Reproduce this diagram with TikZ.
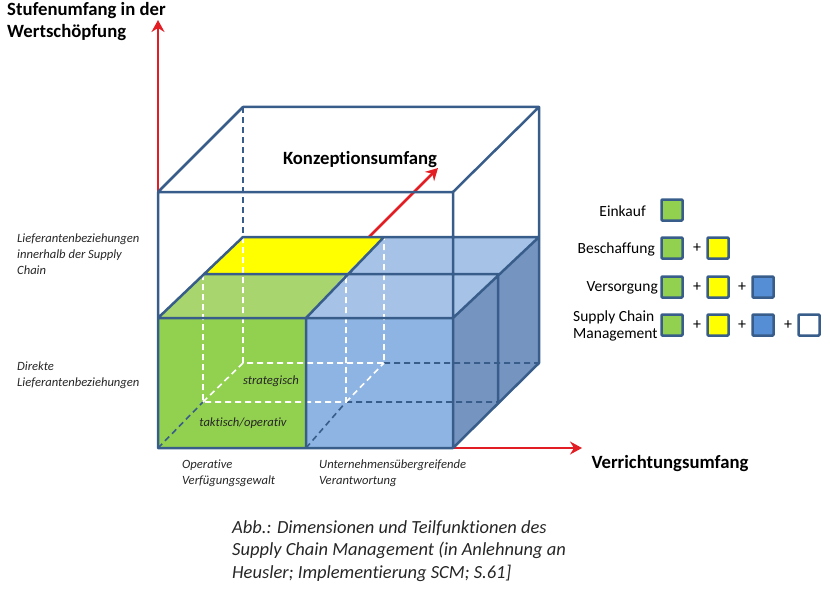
\documentclass[tikz,border=0pt]{standalone}
\usepackage{fontspec}
\setmainfont{Carlito}[Ligatures=NoCommon]
\usetikzlibrary{arrows.meta}
\definecolor{rimblue}{HTML}{385D8A}
\definecolor{axisred}{RGB}{226,30,36}
\definecolor{greenfront}{HTML}{92D050}
\definecolor{greentop}{HTML}{A8D56E}
\definecolor{yellowtop}{HTML}{FFFF00}
\definecolor{bluefront}{HTML}{8EB4E3}
\definecolor{bluetop}{HTML}{A6C3E7}
\definecolor{blueside}{HTML}{7594BF}
\definecolor{bluekey}{HTML}{558ED5}

\begin{document}
\begin{tikzpicture}[x=1pt,y=-1pt,
  rim/.style={draw=rimblue, line width=2.5pt, line join=round},
  hidden/.style={draw=rimblue, line width=1.6pt, dash pattern=on 6pt off 4pt},
  hiddenw/.style={draw=white, line width=1.6pt, dash pattern=on 6pt off 4pt},
  axis/.style={draw=axisred, line width=2.5pt, -{Stealth[length=12pt,width=13pt,inset=4pt]}},
  title/.style={font=\bfseries\fontsize{18.7}{22}\selectfont, align=left, inner sep=0pt},
  note/.style={font=\itshape\fontsize{12.6}{16}\selectfont, align=left, text=black!85, inner sep=0pt},
  legtext/.style={font=\fontsize{15.5}{17}\selectfont, inner sep=0pt},
  legbox/.style={draw=rimblue, line width=2.5pt, minimum size=21pt, inner sep=0pt, rounded corners=1pt},
  plus/.style={font=\fontsize{16}{16}\selectfont, inner sep=0pt}]
\useasboundingbox (0,0) rectangle (830,591);

% axes from the origin
\coordinate (o) at (158,448);
\coordinate (up) at (158,20);
\coordinate (right) at (582,448);
\coordinate (deep) at (438,168);
\draw[axis] (o) -- (up);
\draw[axis] (o) -- (right);
\draw[axis] (o) -- (deep);

% corners of the block: front, middle, back
\coordinate (f1) at (158,448); \coordinate (f2) at (306,448); \coordinate (f3) at (453,448);
\coordinate (t1) at (158,318); \coordinate (t2) at (306,318); \coordinate (t3) at (453,318);
\coordinate (mb1) at (203,402); \coordinate (mb2) at (346,402); \coordinate (mb3) at (498,402);
\coordinate (mt1) at (203,274); \coordinate (mt2) at (346,274); \coordinate (mt3) at (498,274);
\coordinate (bb1) at (243,363); \coordinate (bb2) at (384,363); \coordinate (bb3) at (539,363);
\coordinate (bt1) at (243,237); \coordinate (bt2) at (384,237); \coordinate (bt3) at (539,237);
\coordinate (o1) at (158,192); \coordinate (o3) at (453,192);
\coordinate (q1) at (243,107); \coordinate (q3) at (539,107);

% faces
\fill[greentop] (t1) -- (t2) -- (mt2) -- (mt1) -- cycle;
\fill[yellowtop] (mt1) -- (mt2) -- (bt2) -- (bt1) -- cycle;
\fill[bluetop] (t2) -- (t3) -- (mt3) -- (bt3) -- (bt2) -- (mt2) -- cycle;
\fill[blueside] (t3) -- (bt3) -- (bb3) -- (f3) -- cycle;
\fill[greenfront] (f1) rectangle (t2);
\fill[bluefront] (f2) rectangle (t3);

% hidden edges
\draw[hidden] (q1) -- (bt1);
\draw[hidden] (f1) -- (mb1) (f2) -- (mb2) (mb2) -- (mb3) (bb2) -- (bb3);
\draw[hiddenw] (mt1) -- (mb1) -- (mb2) -- (mt2) (bt1) -- (bb1) -- (bb2) -- (bt2)
  (mb1) -- (bb1) (mb2) -- (bb2);

% visible edges
\draw[rim] (f1) -- (o1) -- (o3) -- (f3) -- cycle
  (o1) -- (q1) -- (q3) -- (o3) (q3) -- (bb3) -- (f3)
  (t1) -- (t3) (t2) -- (f2)
  (t1) -- (bt1) -- (bt3) (t2) -- (bt2) (t3) -- (bt3)
  (mt1) -- (mt3) -- (mb3);

% labels
\path (7,2) node[title, anchor=north west] (stufe) {Stufenumfang in der\\Wertschöpfung}
  (360,160) node[title] (konz) {Konzeptionsumfang}
  (670,464) node[title] (verr) {Verrichtungsumfang};
\path (17,234) node[note, anchor=north west] (inner) {Lieferantenbeziehungen\\innerhalb der Supply\\Chain}
  (17,362) node[note, anchor=north west] (direkt) {Direkte\\Lieferantenbeziehungen}
  (271,381) node[note] (strat) {strategisch}
  (243,423) node[note] (takt) {taktisch/operativ}
  (182,460) node[note, anchor=north west] (oper) {Operative\\Verfügungsgewalt}
  (319,460) node[note, anchor=north west] (unter) {Unternehmensübergreifende\\Verantwortung};
\path (232,520) node[anchor=north west, align=left, inner sep=0pt, text=black!85,
  font=\itshape\fontsize{18.5}{22.5}\selectfont] (abb)
  {Abb.: Dimensionen und Teilfunktionen des\\Supply Chain Management (in Anlehnung an\\Heusler; Implementierung SCM; S.61]};

% legend
\path (672,210) node[legbox, fill=greenfront] (e1){}
  (646,211) node[legtext, anchor=east] (ein){Einkauf}
  (672,248) node[legbox, fill=greenfront] (b1){}
  (697,248) node[plus] (bp1){+}
  (718,248) node[legbox, fill=yellowtop] (b2){}
  (655,249) node[legtext, anchor=east] (besch){Beschaffung}
  (672,287) node[legbox, fill=greenfront] (v1){}
  (697,287) node[plus] (vp1){+}
  (718,287) node[legbox, fill=yellowtop] (v2){}
  (742,287) node[plus] (vp2){+}
  (763,287) node[legbox, fill=bluekey] (v3){}
  (658,288) node[legtext, anchor=east] (vers){Versorgung}
  (672,325) node[legbox, fill=greenfront] (s1){}
  (697,325) node[plus] (sp1){+}
  (718,325) node[legbox, fill=yellowtop] (s2){}
  (742,325) node[plus] (sp2){+}
  (763,325) node[legbox, fill=bluekey] (s3){}
  (788,325) node[plus] (sp3){+}
  (809,325) node[legbox, fill=white] (s4){}
  (573,326) node[legtext, anchor=west, align=left] (scm){Supply Chain\\Management};
\end{tikzpicture}
\end{document}
